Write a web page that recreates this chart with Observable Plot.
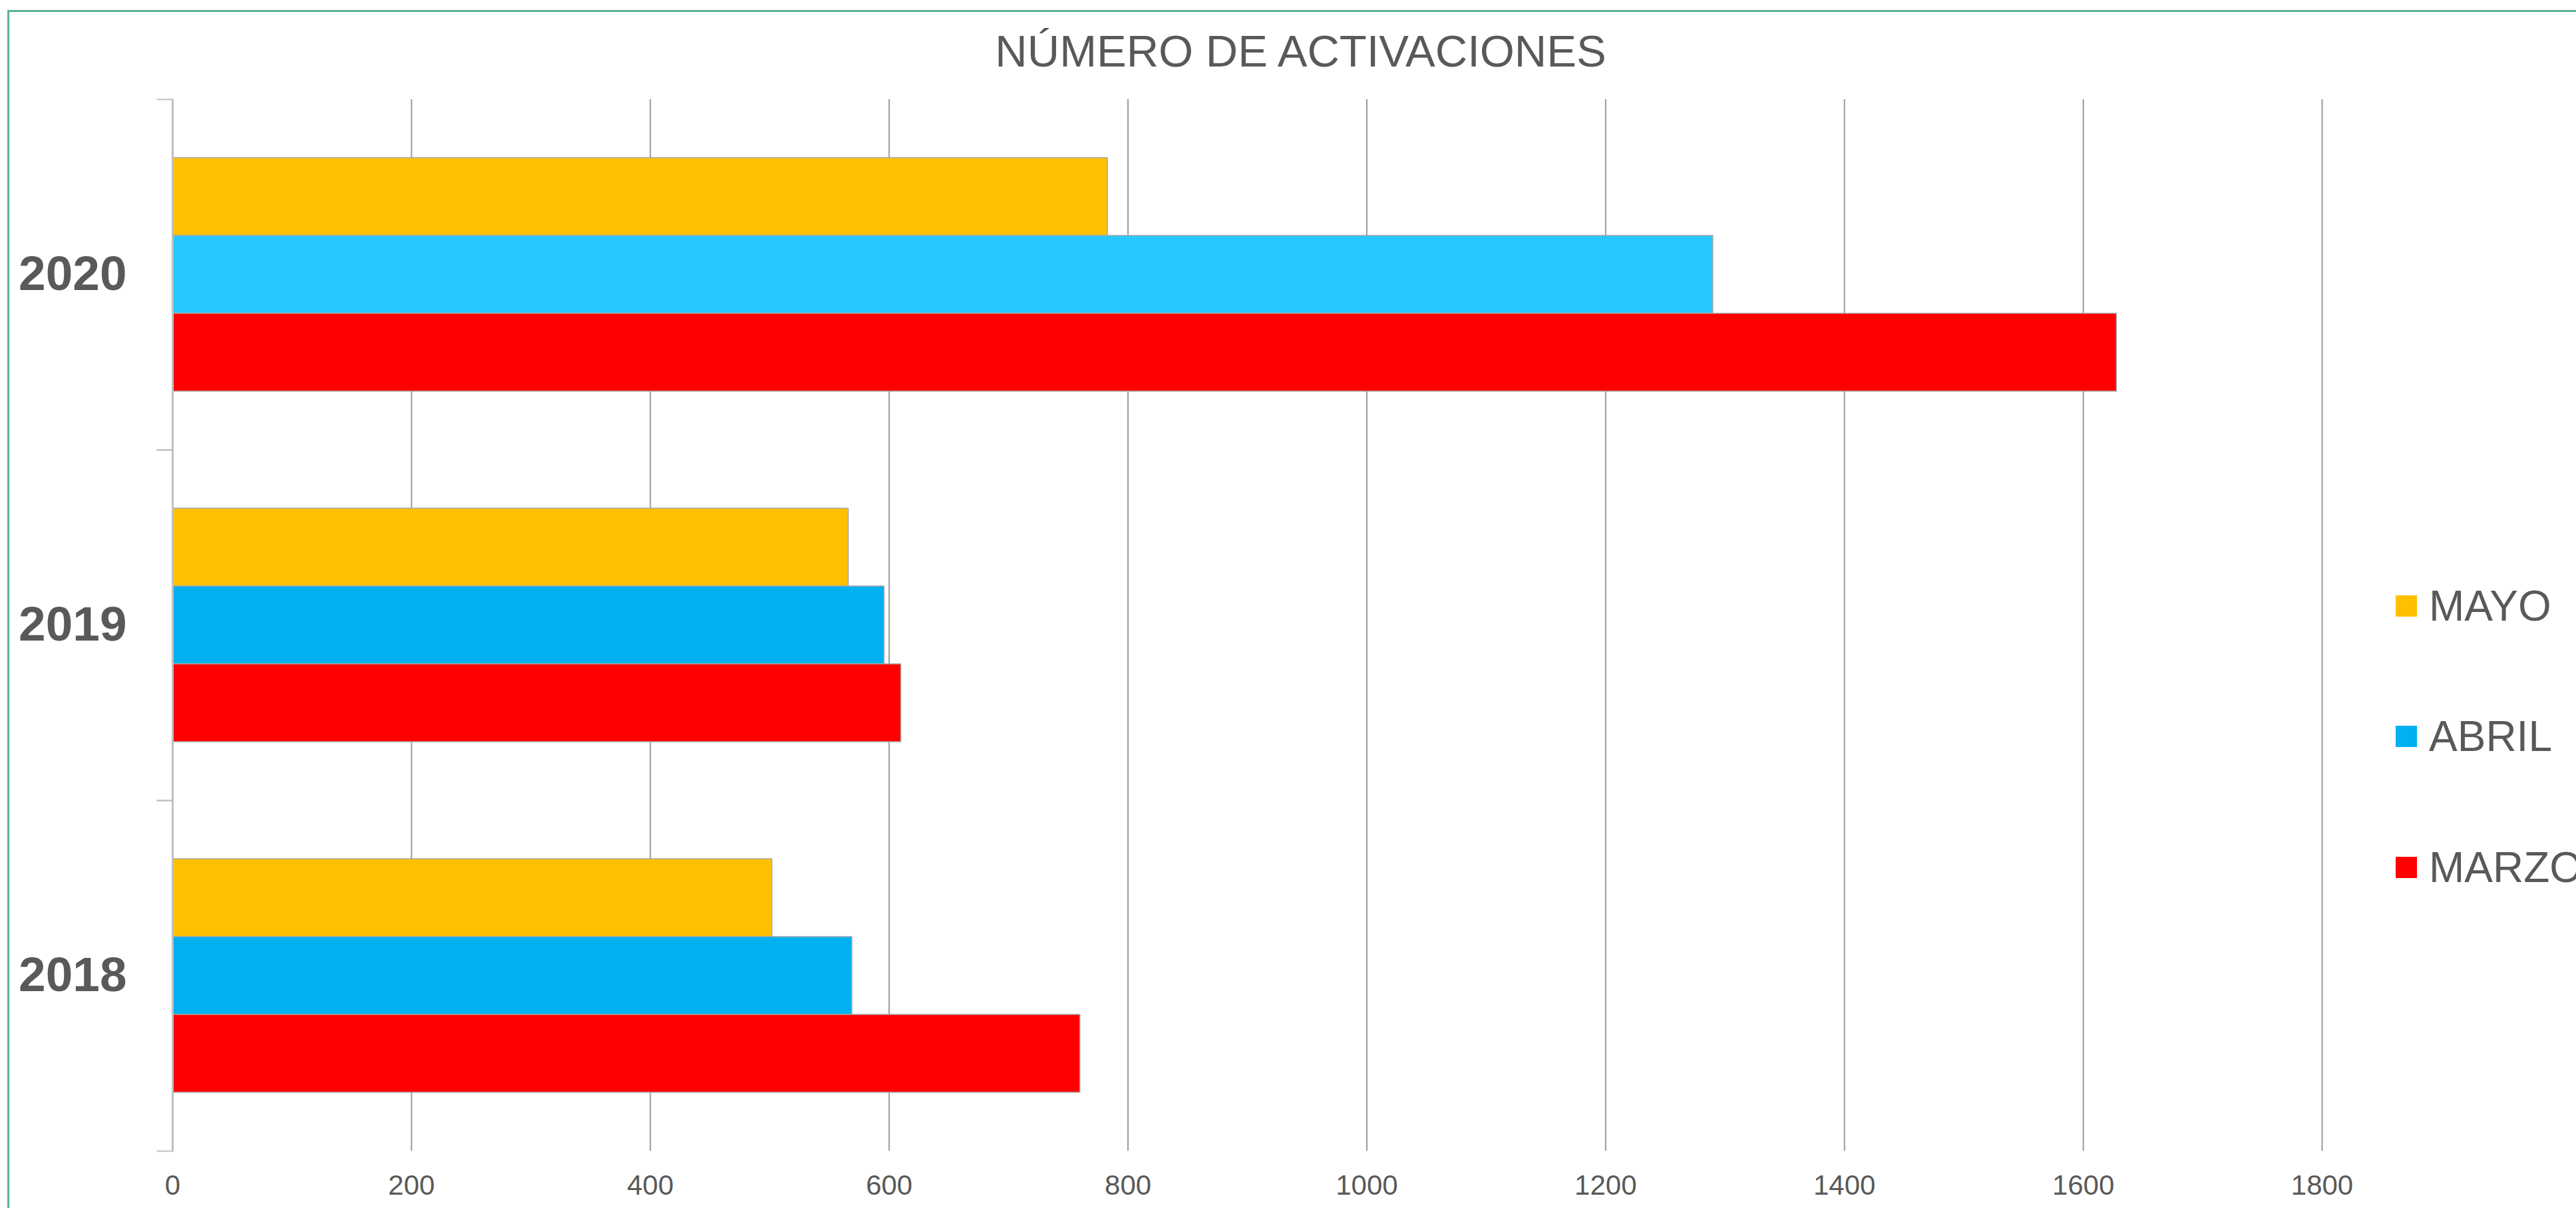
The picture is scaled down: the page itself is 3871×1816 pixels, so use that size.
<!DOCTYPE html>
<html>
<head>
<meta charset="utf-8">
<script src="https://cdn.jsdelivr.net/npm/d3@7"></script>
<script src="https://cdn.jsdelivr.net/npm/@observablehq/plot@0.6"></script>
<style>
  html, body { margin: 0; padding: 0; background: #fff; }
  #wrap { position: relative; width: 3871px; height: 1816px; overflow: hidden;
          font-family: "Liberation Sans", Arial, sans-serif; background: #fff; }
  #border { position: absolute; left: 11px; top: 15px; width: 4000px; height: 2000px;
            border-top: 3px solid #5cb196; border-left: 3px solid #5cb196; }
  #title { position: absolute; left: 19px; top: 43px; width: 3871px; text-align: center;
           font-size: 67px; line-height: 67px; color: #595959; white-space: nowrap; }
  #chart { position: absolute; left: 0; top: 0; }
  #legend { position: absolute; left: 3600px; top: 0; }
  .lg-row { position: absolute; left: 0; height: 64px; display: flex; align-items: center;
            white-space: nowrap; font-size: 64px; line-height: 64px; color: #595959; }
  .lg-sw { width: 32px; height: 32px; margin-right: 18px; flex: none; }
  #chart g[aria-label="fy-axis tick label"] text { font-weight: bold; }
</style>
</head>
<body>
<div id="wrap">
  <div id="border"></div>
  <div id="chart"></div>
  <div id="title">NÚMERO DE ACTIVACIONES</div>
  <div id="legend"></div>
</div>
<script>
// ---- data ----
const years = ["2020", "2019", "2018"];
const months = ["MAYO", "ABRIL", "MARZO"];
const mayo = [783, 566, 502];
const abril = [1290, 596, 569];
const marzo = [1628, 610, 760];
const monthColors = ["#FFC000", "#00B0F0", "#FF0000"];
const abril2020Color = "#29C7FF";
const xTicks = [0, 200, 400, 600, 800, 1000, 1200, 1400, 1600, 1800];

const series = {MAYO: mayo, ABRIL: abril, MARZO: marzo};
const rows = [];
years.forEach((yr, i) => months.forEach(m => rows.push({year: yr, month: m, value: series[m][i]})));
const fillOf = d => (d.year === "2020" && d.month === "ABRIL")
  ? abril2020Color : monthColors[months.indexOf(d.month)];

// ---- layout ----
const W = 3871, H = 1816;
const mL = 259, mR = 382, mT = 148, mB = 85;
const plotW = W - mL - mR;
const tickLen = 23;

const chart = Plot.plot({
  width: W, height: H,
  marginLeft: mL, marginRight: mR, marginTop: mT, marginBottom: mB,
  style: {fontFamily: "'Liberation Sans', Arial, sans-serif", background: "transparent", color: "#595959", overflow: "visible"},
  x: {domain: [0, 1800], label: null},
  y: {domain: months, paddingInner: 0, paddingOuter: 0.75, axis: null},
  fy: {domain: years, padding: 0, label: null},
  marks: [
    Plot.gridX(xTicks.slice(1), {stroke: "#9a9a9a", strokeOpacity: 1, strokeWidth: 2}),
    Plot.barX(rows, {x: "value", y: "month", fy: "year", fill: fillOf, stroke: "#a6a6a6", strokeWidth: 1.5}),
    Plot.ruleX([0], {stroke: "#bfbfbf", strokeWidth: 3}),
    Plot.frame({anchor: "top", stroke: "#bfbfbf", strokeWidth: 2, insetLeft: -tickLen, insetRight: plotW}),
    Plot.frame({anchor: "bottom", stroke: "#bfbfbf", strokeWidth: 2, insetLeft: -tickLen, insetRight: plotW}),
    Plot.axisX({ticks: xTicks, tickFormat: d => String(d), tickSize: 0, tickPadding: 36, fontSize: 42, color: "#595959", label: null}),
    Plot.axisFy({anchor: "left", tickSize: 0, tickPadding: 69, fontSize: 73, fontWeight: "bold", color: "#595959", label: null})
  ]
});
document.getElementById("chart").appendChild(chart);

// ---- legend ----
const legend = document.getElementById("legend");
const legendCenters = [911, 1107, 1304];
months.forEach((m, i) => {
  const row = document.createElement("div");
  row.className = "lg-row";
  row.style.top = (legendCenters[i] - 32) + "px";
  const sw = document.createElement("div");
  sw.className = "lg-sw";
  sw.style.background = monthColors[i];
  const tx = document.createElement("span");
  tx.textContent = m;
  row.appendChild(sw);
  row.appendChild(tx);
  legend.appendChild(row);
});
</script>
</body>
</html>
